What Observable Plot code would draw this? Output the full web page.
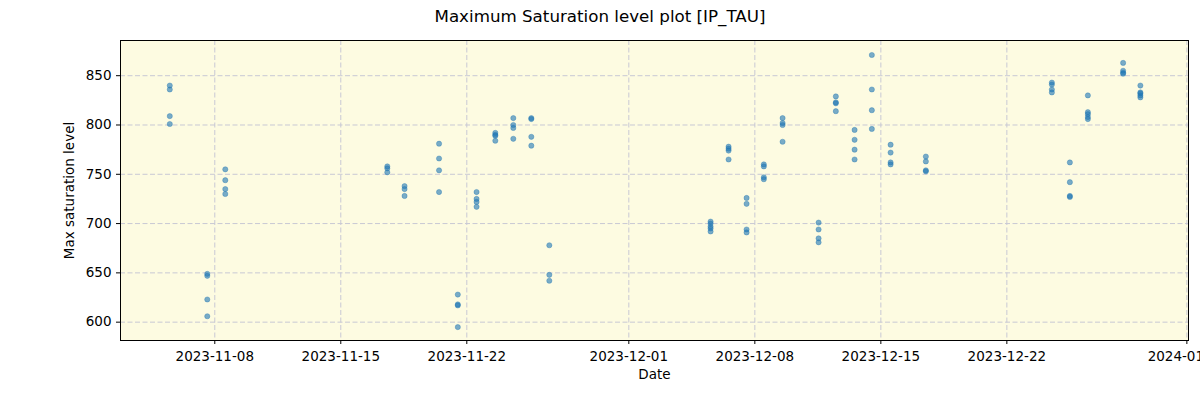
<!DOCTYPE html>
<html>
<head>
<meta charset="utf-8">
<script src="https://cdn.jsdelivr.net/npm/d3@7"></script>
<script src="https://cdn.jsdelivr.net/npm/@observablehq/plot@0.6"></script>
<style>
  html, body { margin: 0; padding: 0; background: #fff; }
  body { width: 1200px; height: 400px; overflow: hidden; font-family: "DejaVu Sans", sans-serif; }
  #title { height: 30px; line-height: 32px; text-align: center; font-size: 16.7px; color: #000; }
  #chart svg { overflow: visible; }
</style>
</head>
<body>
<div id="title">Maximum Saturation level plot [IP_TAU]</div>
<div id="chart"></div>
<script>
const sessionDates = [
  "2023-11-05T12:00", "2023-11-07T14:00", "2023-11-08T14:00",
  "2023-11-17T14:00", "2023-11-18T13:00", "2023-11-20T11:00",
  "2023-11-21T12:00", "2023-11-22T13:00", "2023-11-23T14:00",
  "2023-11-24T14:00", "2023-11-25T14:00", "2023-11-26T14:00",
  "2023-12-05T13:00", "2023-12-06T13:00", "2023-12-07T13:00",
  "2023-12-08T12:00", "2023-12-09T13:00", "2023-12-11T13:00",
  "2023-12-12T12:00", "2023-12-13T13:00", "2023-12-14T12:00",
  "2023-12-15T13:00", "2023-12-17T12:00", "2023-12-24T12:00",
  "2023-12-25T12:00", "2023-12-26T12:00", "2023-12-28T11:00",
  "2023-12-29T10:00"
];
const sessionValues = [
  [840, 836, 809, 801],
  [649, 647, 623, 606],
  [755, 744, 735, 730],
  [758, 756, 752],
  [738, 735, 728],
  [781, 766, 754, 732],
  [628, 618, 617, 595],
  [732, 725, 722, 717],
  [792, 790, 789, 784],
  [807, 800, 797, 786],
  [807, 806, 788, 779],
  [678, 648, 642],
  [702, 700, 697, 695, 692],
  [778, 776, 774, 765],
  [726, 720, 694, 691],
  [760, 758, 747, 745],
  [807, 802, 800, 783],
  [701, 694, 685, 681],
  [829, 823, 822, 814],
  [795, 785, 775, 765],
  [871, 836, 815, 796],
  [780, 772, 762, 760],
  [768, 763, 754, 753],
  [843, 841, 836, 833],
  [762, 742, 728, 727],
  [830, 813, 811, 808, 806],
  [863, 855, 853, 852],
  [840, 833, 832, 830, 828]
];
const xTickLabels = ["2023-11-08", "2023-11-15", "2023-11-22", "2023-12-01", "2023-12-08", "2023-12-15", "2023-12-22", "2024-01-01"];
const yTickValues = [600, 650, 700, 750, 800, 850];

const data = sessionDates.flatMap((d, i) =>
  sessionValues[i].map(v => ({date: new Date(d), value: v}))
);
const xTicks = xTickLabels.map(s => new Date(s + "T00:00"));
const fmt = d3.timeFormat("%Y-%m-%d");

const chart = Plot.plot({
  width: 1200,
  height: 370,
  marginTop: 10,
  marginBottom: 60,
  marginLeft: 120,
  marginRight: 12,
  style: {fontFamily: "DejaVu Sans, sans-serif", fontSize: "13.5px", color: "#000", background: "transparent"},
  x: {type: "time", domain: [new Date("2023-11-02T18:18"), new Date("2024-01-01T02:10")]},
  y: {domain: [581.4, 885.7]},
  marks: [
    Plot.frame({fill: "#fdfbe1", stroke: null}),
    Plot.gridX(xTicks, {stroke: "#c8c8d4", strokeOpacity: 1, strokeDasharray: "5,2.5", strokeWidth: 1}),
    Plot.gridY(yTickValues, {stroke: "#c8c8d4", strokeOpacity: 1, strokeDasharray: "5,2.5", strokeWidth: 1}),
    Plot.dot(data, {x: "date", y: "value", r: 2.6, fill: "#1f77b4", fillOpacity: 0.6, stroke: "#1f77b4", strokeOpacity: 0.6, strokeWidth: 0.6}),
    Plot.frame({stroke: "#000", strokeWidth: 1}),
    Plot.axisX(xTicks, {tickFormat: fmt, tickSize: 4, tickPadding: 6.5, label: "Date", labelAnchor: "center", labelArrow: "none", labelOffset: 38.5, fontSize: 13.5}),
    Plot.axisY(yTickValues, {tickSize: 4, tickPadding: 5, label: "Max saturation level", labelAnchor: "center", labelArrow: "none", labelOffset: 56, fontSize: 13.5})
  ]
});
document.getElementById("chart").appendChild(chart);
</script>
</body>
</html>
